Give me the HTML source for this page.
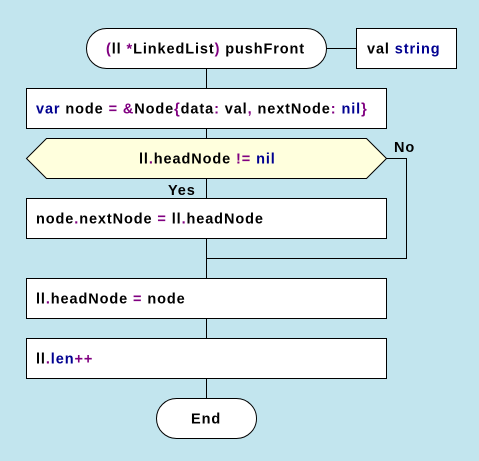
<!DOCTYPE html>
<html><head><meta charset="utf-8"><style>
html,body{margin:0;padding:0;background:#c2e5ee;}
svg{display:block}
text{font-family:"Liberation Sans",Arial,sans-serif;font-weight:bold;font-size:14.5px;letter-spacing:0.9px;fill:#000}
.p{fill:#800080}.b{fill:#000090}
</style></head><body>
<svg width="479" height="461" viewBox="0 0 479 461" xmlns="http://www.w3.org/2000/svg">
<rect x="0" y="0" width="479" height="461" fill="#c2e5ee"/>
<g stroke="#000" stroke-width="1" fill="none">
<line x1="206.5" y1="68" x2="206.5" y2="398"/>
<line x1="326" y1="48.5" x2="356" y2="48.5"/>
<polyline points="386,158.5 406.5,158.5 406.5,258.5 206.5,258.5"/>
</g>
<g stroke="#000" stroke-width="1">
<rect x="86.5" y="28.5" width="240" height="40" rx="20" fill="#fff"/>
<rect x="356.5" y="28.5" width="100" height="40" fill="#fff"/>
<rect x="26.5" y="88.5" width="360" height="40" fill="#fff"/>
<polygon points="26.5,158.5 46.5,138.5 366.5,138.5 386.5,158.5 366.5,178.5 46.5,178.5" fill="#ffffdd"/>
<rect x="26.5" y="198.5" width="360" height="40" fill="#fff"/>
<rect x="26.5" y="278.5" width="360" height="40" fill="#fff"/>
<rect x="26.5" y="338.5" width="360" height="40" fill="#fff"/>
<rect x="156.5" y="398.5" width="100" height="40" rx="20" fill="#fff"/>
</g>
<text x="106" y="53.5"><tspan class="p">(</tspan>ll <tspan class="p">*</tspan>LinkedList<tspan class="p">)</tspan> pushFront</text>
<text x="367" y="53.5">val <tspan class="b">string</tspan></text>
<text x="36" y="113.5"><tspan class="b">var</tspan> node <tspan class="p">=</tspan> <tspan class="p">&amp;</tspan>Node<tspan class="p">{</tspan>data<tspan class="p">:</tspan> val<tspan class="p">,</tspan> nextNode<tspan class="p">:</tspan> <tspan class="b">nil</tspan><tspan class="p">}</tspan></text>
<text x="139" y="163.5">ll<tspan class="p">.</tspan>headNode <tspan class="p">!=</tspan> <tspan class="b">nil</tspan></text>
<text x="394" y="152">No</text>
<text x="168" y="195">Yes</text>
<text x="36" y="223.5">node<tspan class="p">.</tspan>nextNode <tspan class="p">=</tspan> ll<tspan class="p">.</tspan>headNode</text>
<text x="36" y="303.5">ll<tspan class="p">.</tspan>headNode <tspan class="p">=</tspan> node</text>
<text x="36" y="363.5">ll<tspan class="p">.</tspan><tspan class="b">len</tspan><tspan class="p">++</tspan></text>
<text x="191" y="423.5">End</text>
</svg>
</body></html>
